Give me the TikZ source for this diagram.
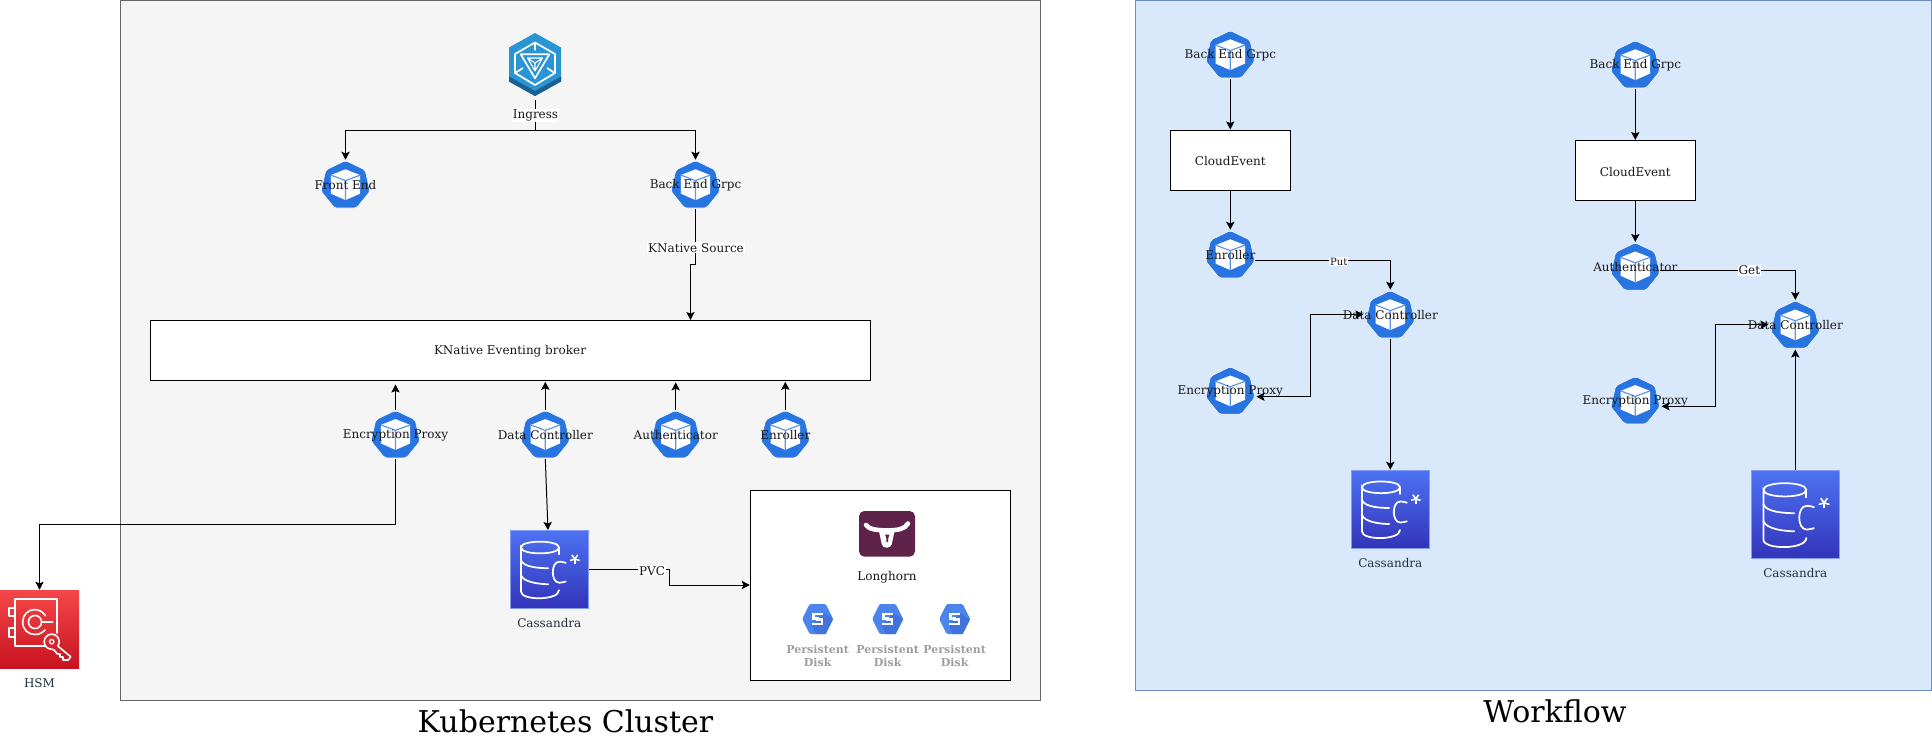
\documentclass[tikz,border=0pt]{standalone}
\usepackage{fontspec}
\setmainfont{DejaVu Serif}
\usetikzlibrary{arrows.meta,shapes.geometric}
\definecolor{podblue}{HTML}{2875E2}
\definecolor{podline}{HTML}{5B97EE}
\definecolor{ingblue}{HTML}{2A95D5}
\definecolor{ingdark}{HTML}{1B5E91}
\definecolor{awstext}{HTML}{232F3E}
\definecolor{lhpurple}{HTML}{5F224A}
\definecolor{gcpblue}{HTML}{4C84EE}
\definecolor{gcpdark}{HTML}{4272DB}
\definecolor{cassa}{HTML}{4D72F3}
\definecolor{cassb}{HTML}{3334B9}
\newcommand{\lowered}[1]{\raisebox{-0.9pt}[\height][\depth]{#1}}
\tikzset{
  txt/.style={font=\fontsize{9}{11}\selectfont,text=black!90,yshift=-0.6pt},
  podnode/.style={rectangle,inner sep=0pt,minimum width=49pt*0.75,minimum height=49pt*0.75},
  plainbox/.style={rectangle,draw=black,fill=white,line width=0.75pt,inner sep=0pt,font=\fontsize{9}{11}\selectfont,text=black!90},
  edgelabel/.style={txt,fill=white,inner sep=0.6pt},
  conn/.style={draw=black,line width=0.75pt,-{Stealth[length=6pt,width=6.2pt,inset=1.2pt]}},
  conntwo/.style={draw=black,line width=0.75pt,{Stealth[length=6pt,width=6.2pt,inset=1.2pt]}-{Stealth[length=6pt,width=6.2pt,inset=1.2pt]}},
  awslabel/.style={font=\fontsize{9}{11}\selectfont,text=awstext,yshift=-0.5pt},
  disklabel/.style={font=\fontsize{8.25}{9.6}\selectfont\bfseries,text=black!38,align=center},
  titletext/.style={font=\fontsize{22.5}{26}\selectfont,text=black},
  podicon/.pic={
    \fill[podblue,draw=white,line width=0.4pt,rounded corners=1.5pt,line join=round]
      (0,-25)--(19.6,-15.6)--(24.5,5.6)--(10.9,22.4)--(-10.9,22.4)--(-24.5,5.6)--(-19.6,-15.6)--cycle;
    \fill[white] (0,-16.3)--(14.7,-10.5)--(14.7,8)--(0,14.5)--(-14.7,8)--(-14.7,-10.5)--cycle;
    \draw[podline,line width=0.9pt] (-14.7,-10.5)--(0,-5)--(14.7,-10.5) (0,-5)--(0,14.5);
  },
  cassicon/.pic={
    \shade[top color=cassa,bottom color=cassb,draw=cassa!70!white,line width=0.6pt] (-39,-39) rectangle (39,39);
    \begin{scope}[draw=white,line width=1.3pt,line cap=round]
    \draw (-28.3,-21.7) .. controls (-28.3,-29.5) and (9.7,-29.5) .. (9.7,-21.7) .. controls (9.7,-13.9) and (-28.3,-13.9) .. (-28.3,-21.7) -- (-28.3,22.5) .. controls (-28.3,31.5) and (9.7,31.5) .. (9.7,21);
    \draw (9.7,-21.7)--(9.7,-15);
    \draw (-28.3,-9) .. controls (-26,-2) and (-10,-1) .. (-1,-1);
    \draw (-28.3,6) .. controls (-26,13) and (-10,15) .. (-1,15);
    \draw (16.5,-6.3) .. controls (13,-7.5) and (11.5,-7.5) .. (10,-7.5) .. controls (5.5,-7.5) and (3.5,-2) .. (3.5,3) .. controls (3.5,8) and (5.5,13.5) .. (10,13.5) .. controls (11.5,13.5) and (13,13.3) .. (16.5,12.3);
    \foreach \a in {90,162,234,306,18} {\draw[line width=1.2pt,line cap=butt] (25.5,-10.2) -- ++(\a:5);}
    \end{scope}
  },
  diskicon/.pic={
    \fill[gcpblue,rounded corners=1pt] (-8,-15)--(8,-15)--(15.5,0)--(8,15)--(-8,15)--(-15.5,0)--cycle;
    \fill[gcpdark] (5.5,-6)--(15.5,0)--(8,15)--(-2,15)--(-5.5,7)--cycle;
    \draw[white,line width=1.8pt] (5.5,-4.8)--(-4.4,-4.8)--(-4.4,-0.6)--(1.5,-0.6);
    \draw[white,line width=1.8pt] (-5.5,4.8)--(4.4,4.8)--(4.4,0.6)--(-1.5,0.6);
  }
}
\newcommand{\podat}[4]{%
  \pic at (#2,#3+1.1) {podicon};
  \node[podnode,label={[txt,inner sep=0pt]center:#4}] (#1) at (#2,#3) {};
}
\newcommand{\cassat}[6]{% name, cx, cy, size, colour scale, label y
  \pic[scale=#5] at (#2,#3) {cassicon};
  \node[rectangle,inner sep=0pt,minimum width=#4*0.75pt,minimum height=#4*0.75pt] (#1) at (#2,#3) {};
  \node[awslabel] (#1text) at (#2,#6) {Cassandra};
}
\begin{document}
\begin{tikzpicture}[x=0.75pt,y=-0.75pt]
\useasboundingbox (0,0) rectangle (1932,742);
\fill[white] (0,0) rectangle (1932,742);
% panels
\draw[fill=black!4,draw=black!60,line width=0.75pt] (120.5,0.5) rectangle (1040,700);
\draw[fill={rgb,255:red,218;green,232;blue,252},draw={rgb,255:red,108;green,142;blue,191},line width=0.75pt] (1135.5,0.5) rectangle (1931.5,690);
\node[titletext] (lefttitle) at (565.5,721) {Kubernetes Cluster};
\node[titletext] (righttitle) at (1555,711) {Workflow};

% --- Ingress icon
\begin{scope}[shift={(535,64.5)}]
  \fill[ingblue] (0,-31.5)--(26,-17)--(26,17)--(0,31.5)--(-26,17)--(-26,-17)--cycle;
  \fill[ingdark] (-26,12)--(0,26.5)--(26,12)--(26,17)--(0,31.5)--(-26,17)--cycle;
  \draw[white,line width=1.3pt,line join=round] (0,-22)--(20,-10.5)--(20,8.5)--(0,20.5)--(-20,8.5)--(-20,-10.5)--cycle;
  \draw[white,line width=1.3pt,line join=round] (-14.3,-10.2)--(14.3,-10.2)--(0,13.8)--cycle;
  \draw[white,line width=0.8pt,line join=round] (-7.5,-6.5)--(7.5,-6.5)--(0,6.5)--cycle (0,-1.5)--(-7.5,-6.5) (0,-1.5)--(7.5,-6.5) (0,-1.5)--(0,6.5);
  \draw[white,line width=1.3pt] (0,-21)--(0,-14) (19,8)--(12,3.5) (-19,8)--(-12,3.5);
\end{scope}
\node[rectangle,inner sep=0pt,minimum width=52pt*0.75,minimum height=71pt*0.75] (ingress) at (535.5,64.5) {};

% --- pods, left panel
\podat{frontend}{345.5}{184.5}{Front End}
\podat{backend}{695.5}{184.5}{Back End Grpc}
\podat{epa}{395.5}{434.3}{Encryption Proxy}
\podat{dca}{545.3}{434.3}{Data Controller}
\podat{aua}{675.7}{434.3}{Authenticator}
\podat{ena}{785.3}{434.3}{Enroller}

\node[plainbox,minimum width=720*0.75pt,minimum height=60*0.75pt] (broker) at (510,350) {\lowered{KNative Eventing broker}};
\coordinate (brokerin) at (690.5,320);

% Cassandra left
\cassat{cassa}{549.3}{569.2}{78}{1}{622.5}

% HSM
\shade[top color={rgb,255:red,245;green,71;blue,73},bottom color={rgb,255:red,199;green,19;blue,31}] (0,590) rectangle (79,668);
\node[rectangle,inner sep=0pt,minimum width=79*0.75pt,minimum height=78*0.75pt] (hsm) at (39.5,629) {};
\node[awslabel] (hsmtext) at (39.5,682) {HSM};
\begin{scope}[draw=white,line width=1.2pt,line join=round,line cap=round]
  \draw (45,645.7)--(15,645.7)--(15,599)--(57,599)--(57,633);
  \draw (15,608)--(9,608)--(9,616)--(15,616);
  \draw (15,628)--(9,628)--(9,637)--(15,637);
  \draw (45.6,615.7) .. controls (42,611) and (38.5,609.7) .. (35,609.7) .. controls (27.5,609.7) and (22.7,615) .. (22.7,622) .. controls (22.7,629.5) and (28,634.5) .. (35,634.5) .. controls (39,634.5) and (42,633) .. (45,630);
  \draw (41.5,622) .. controls (41.5,618) and (38.5,615.5) .. (35,615.5) .. controls (31.5,615.5) and (28.5,618) .. (28.5,622) .. controls (28.5,626) and (31.5,628.5) .. (35,628.5) .. controls (38.5,628.5) and (41.5,626) .. (41.5,622) -- (52.7,622);
  \draw (51.7,634.2) .. controls (47.5,634.2) and (44.2,637.5) .. (44.2,641.7) .. controls (44.2,646) and (47.5,649.2) .. (51.7,649.2) -- (54,650) -- (57.5,654)--(60,654)--(60,657)--(63,657)--(63,660)--(68.3,660)--(70.7,656.7)--(57.8,646) .. controls (59.5,644) and (59.2,641.7) .. (59.2,641.7) .. controls (59.2,637.5) and (55.9,634.2) .. (51.7,634.2);
  \draw[line width=1pt] (53.9,641.7) .. controls (53.9,640.5) and (52.9,639.5) .. (51.7,639.5) .. controls (50.5,639.5) and (49.5,640.5) .. (49.5,641.7) .. controls (49.5,642.9) and (50.5,643.9) .. (51.7,643.9) .. controls (52.9,643.9) and (53.9,642.9) .. (53.9,641.7);
\end{scope}

% Longhorn box
\node[rectangle,draw=black,fill=white,line width=0.75pt,inner sep=0pt,minimum width=260.5*0.75pt,minimum height=190*0.75pt] (longhorn) at (880.5,585) {};
\fill[lhpurple,rounded corners=4pt] (859,511) rectangle (915,556.7);
\draw[white,line width=3.4pt,line cap=round] (866,525) .. controls (869,529.5) and (876,530) .. (887,530.5) .. controls (898,530) and (904.5,529.5) .. (908,523.5);
\fill[white,rounded corners=2.6pt] (878.5,529) -- (895,529) -- (891,547.6) -- (882.5,547.6) -- cycle;
\fill[lhpurple] (885,534.5) -- (889.5,534.5) -- (888.3,538) -- (888.1,542) -- (886.5,542) -- (886.3,538) -- cycle;
\node[txt] (longhorntext) at (887,576) {Longhorn};
\pic at (817.7,619) {diskicon};
\pic at (887.7,619) {diskicon};
\pic at (954.7,619) {diskicon};
\node[disklabel] (diska) at (817.7,655.5) {Persistent\\Disk};
\node[disklabel] (diskb) at (887.7,655.5) {Persistent\\Disk};
\node[disklabel] (diskc) at (954.7,655.5) {Persistent\\Disk};

% --- Workflow left
\podat{beb}{1230.3}{54.5}{Back End Grpc}
\node[plainbox,minimum width=120*0.75pt,minimum height=60*0.75pt] (ceb) at (1230.3,160) {\lowered{CloudEvent}};
\podat{enb}{1230.3}{254.5}{Enroller}
\podat{dcb}{1390.3}{314.5}{Data Controller}
\podat{epb}{1230.3}{390.7}{Encryption Proxy}
\cassat{cassb}{1390.3}{509}{78}{1}{562.7}

% --- Workflow right
\podat{bec}{1635.3}{64.5}{Back End Grpc}
\node[plainbox,minimum width=120*0.75pt,minimum height=60*0.75pt] (cec) at (1635.3,170.5) {\lowered{CloudEvent}};
\podat{auc}{1635.3}{266.7}{Authenticator}
\podat{dcc}{1795.3}{324.7}{Data Controller}
\podat{epc}{1635.3}{400.3}{Encryption Proxy}
\cassat{cassc}{1795.3}{514.3}{88}{1.128}{572.3}

% --- connectors, left panel
\draw[conn] (ingress.south) -- ++(0,30.5) -| (frontend.north);
\draw[conn] (ingress.south) -- ++(0,30.5) -| (backend.north);
\node[edgelabel] (ingresslabel) at (535.5,114.5) {Ingress};
\draw[conn] (backend.south) -- ++(0,55.5) -| (brokerin);
\node[edgelabel] (knslabel) at (696,247) {KNative Source};
\draw[conn,shorten >=3pt] (epa.north) -- (epa.north |- broker.south);
\draw[conn,shorten >=1pt] (dca.north) -- (dca.north |- broker.south);
\draw[conn,shorten >=1.4pt] (aua.north) -- (aua.north |- broker.south);
\draw[conn,shorten >=1pt] (ena.north) -- (ena.north |- broker.south);
\draw[conn] (epa.south) -- ++(0,65.9) -| (hsm.north);
\draw[conn] (dca.south) -- ([xshift=-1pt]cassa.north);
\draw[conn] (cassa.east) -- ++(81,0) |- (longhorn.west);
\node[edgelabel] (pvclabel) at (652,570) {PVC};

% --- connectors, workflow left
\draw[conn] (beb.south) -- (ceb.north);
\draw[conn] (ceb.south) -- (enb.north);
\draw[conn] (enb.east) ++(0,5.5) -| (dcb.north);
\node[edgelabel,font=\fontsize{7.5}{9}\selectfont] (putlabel) at (1338.7,261) {Put};
\draw[conntwo] (epb.east) ++(1.5,6) -- ++(54,0) |- ([xshift=-1.6pt]dcb.west);
\draw[conn] (dcb.south) -- (cassb.north);

% --- connectors, workflow right
\draw[conn] (bec.south) -- (cec.north);
\draw[conn] (cec.south) -- (auc.north);
\draw[conn] (auc.east) ++(0,3.6) -| (dcc.north);
\node[edgelabel] (getlabel) at (1749.3,269.5) {Get};
\draw[conntwo] (epc.east) ++(1.5,6) -- ++(54,0) |- ([xshift=-1.6pt]dcc.west);
\draw[conn] (cassc.north) -- (dcc.south);
\end{tikzpicture}
\end{document}
